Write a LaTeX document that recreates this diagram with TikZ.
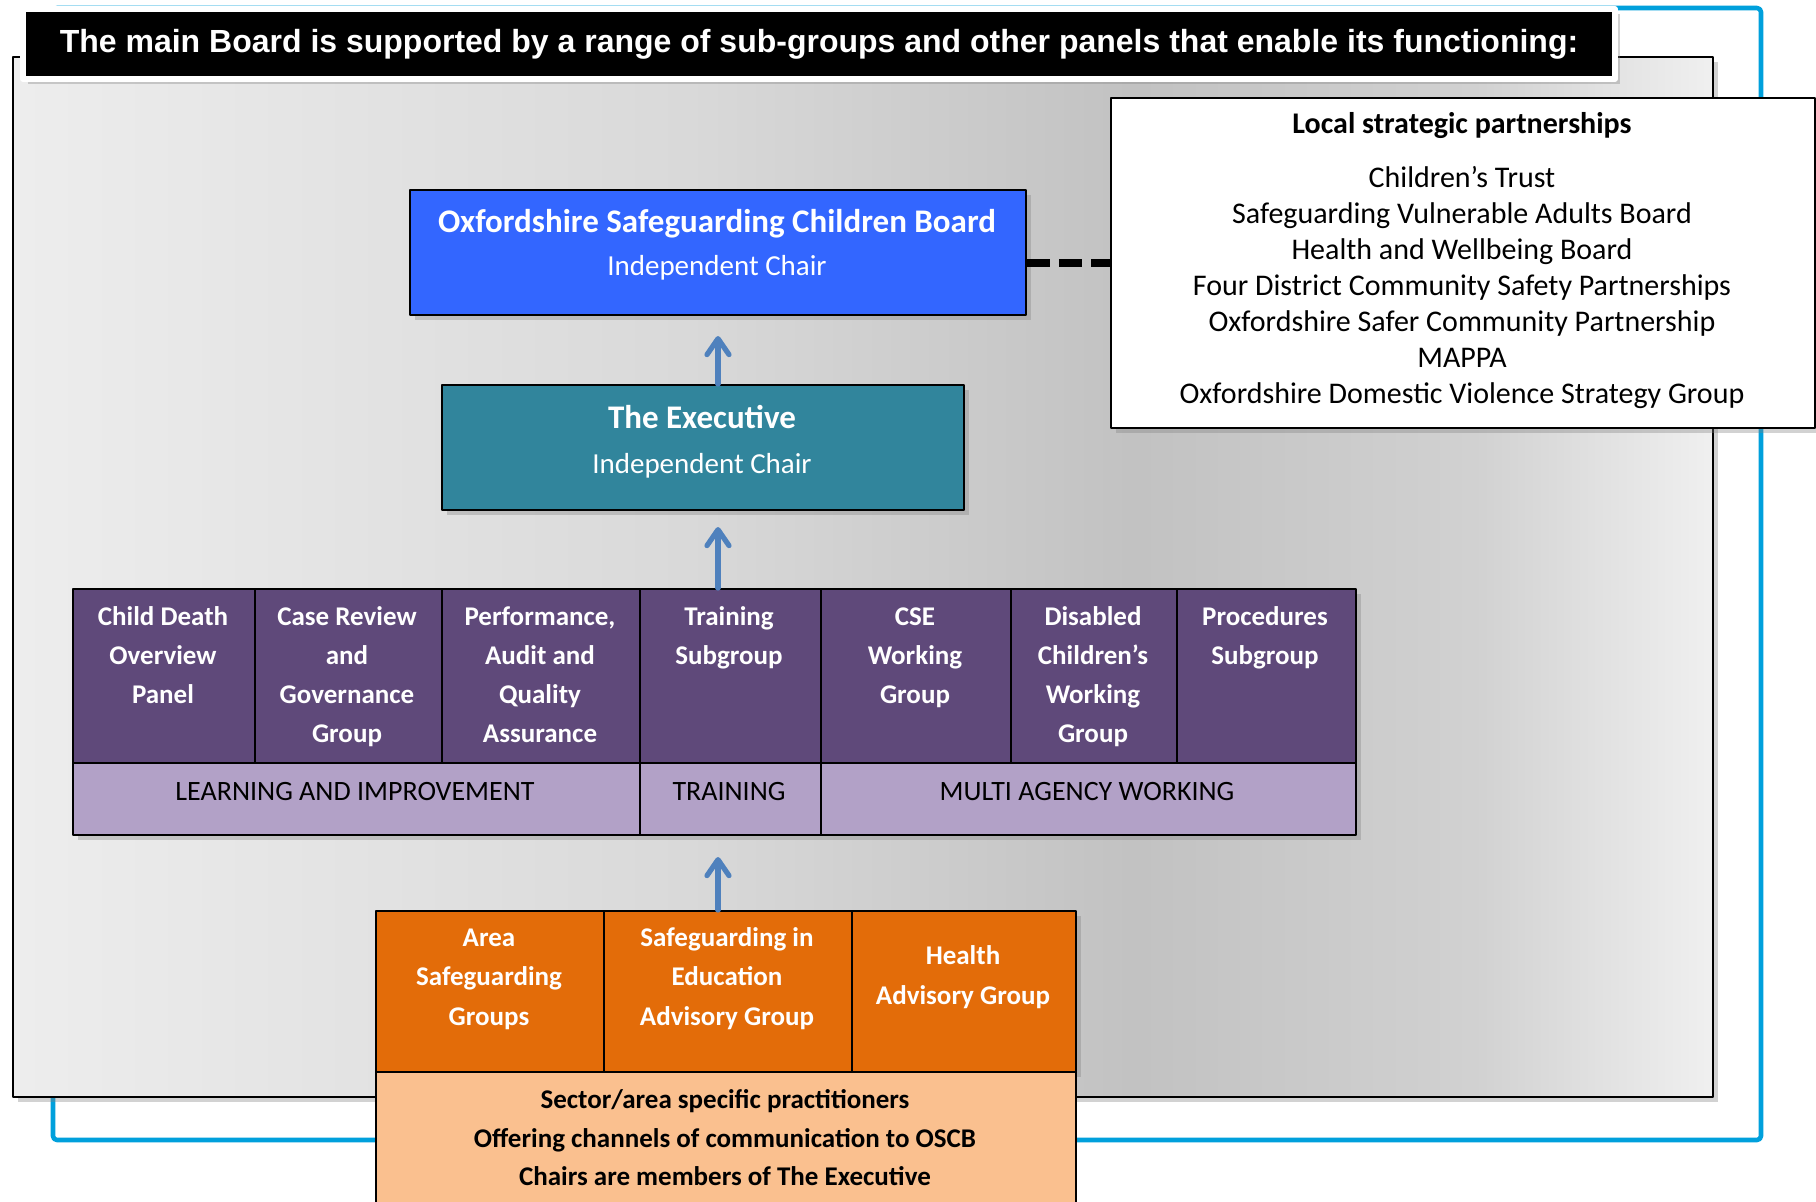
\documentclass[tikz,border=0pt]{standalone}
\usepackage{fontspec}
\setmainfont{Carlito}
\newfontfamily\headfont{Liberation Sans}
\usetikzlibrary{arrows.meta,shadows}

\definecolor{frameblue}{RGB}{0,160,220}
\definecolor{boardblue}{RGB}{51,102,255}
\definecolor{execteal}{RGB}{49,133,156}
\definecolor{subpurple}{RGB}{95,73,122}
\definecolor{themepurple}{RGB}{178,161,199}
\definecolor{grouporange}{RGB}{227,108,9}
\definecolor{noteorange}{RGB}{250,192,143}
\definecolor{linkblue}{RGB}{79,129,189}

\pgfdeclarehorizontalshading{panelshade}{100bp}{color(0bp)=(black!7); color(25bp)=(black!7); color(45bp)=(black!15); color(58bp)=(black!24); color(68bp)=(black!18); color(75bp)=(black!6); color(100bp)=(black!6)}

\tikzset{
  box/.style={draw=black,line width=1pt,inner sep=0pt,anchor=north west},
  shadowed/.style={drop shadow={shadow xshift=2.5pt,shadow yshift=-2.5pt,opacity=0.35}},
  subcell/.style={box,shadowed,fill=subpurple,minimum height=87pt},
  themecell/.style={box,shadowed,fill=themepurple,minimum height=36pt},
  groupcell/.style={box,shadowed,fill=grouporange,minimum height=80.5pt},
  headtext/.style={text=white,font=\bfseries\fontsize{16.5}{20}\selectfont,anchor=base,inner sep=0pt},
  chairtext/.style={text=white,font=\fontsize{14.5}{18}\selectfont,anchor=base,inner sep=0pt},
  celltext/.style={text=white,font=\bfseries\fontsize{13.5}{19.5}\selectfont,align=flush center,anchor=base,inner sep=0pt},
  themetext/.style={font=\fontsize{14}{17}\selectfont,anchor=base,inner sep=0pt},
  upline/.style={draw=linkblue,line width=2.6pt,-{Straight Barb[length=8pt,width=11pt,round]}}
}

\begin{document}
\begin{tikzpicture}[line cap=round,line join=round,x=0.5pt,y=-0.5pt]
		\useasboundingbox (0,0) rectangle (1816,1201);
		\fill[white] (0,0) rectangle (1816,1201);
		% outer frame and background panel
		\draw[frameblue,line width=2.3pt,rounded corners=2pt] (53,8) rectangle (1761,1140);
		\draw[shadowed,shade,shading=panelshade,line width=1pt] (13,57) rectangle (1713,1097);
		% heading
		\node[fill=black,draw=white,line width=3pt,shadowed,minimum width=796pt,minimum height=34.75pt,inner sep=0pt,
			text=white,font=\headfont\bfseries\fontsize{16}{19}\selectfont] (title) at (819,44)
			{The main Board is supported by a range of sub-groups and other panels that enable its functioning:};
		% local partnerships
		\node[box,shadowed,fill=white,minimum width=352pt,minimum height=165pt] (lsp) at (1110,97) {};
		\node[font=\bfseries\fontsize{15}{18}\selectfont,anchor=base,inner sep=0pt] (lsptitle) at (1462,133) {Local strategic partnerships};
		\node[font=\fontsize{15}{18}\selectfont,align=flush center,text width=345pt,anchor=base,inner sep=0pt] (lsplist) at (1462,187)
			{Children’s Trust\\Safeguarding Vulnerable Adults Board\\Health and Wellbeing Board\\Four District Community Safety Partnerships\\Oxfordshire Safer Community Partnership\\MAPPA\\Oxfordshire Domestic Violence Strategy Group};
		% board and executive
		\node[box,shadowed,fill=boardblue,minimum width=308pt,minimum height=62.5pt] (board) at (409,189) {};
		\node[headtext] (boardname) at (717,232) {Oxfordshire Safeguarding Children Board};
		\node[chairtext] (boardchair) at (717,275) {Independent Chair};
		\node[box,shadowed,fill=execteal,minimum width=261pt,minimum height=62.5pt] (exec) at (441,384) {};
		\node[headtext] (execname) at (702,428) {The Executive};
		\node[chairtext] (execchair) at (702,473) {Independent Chair};
		% subgroups
		\node[subcell,minimum width=91pt] (cdop) at (72,588) {};
		\node[subcell,minimum width=93.5pt] (crg) at (254,588) {};
		\node[subcell,minimum width=99pt] (paqa) at (441,588) {};
		\node[subcell,minimum width=90.5pt] (train) at (639,588) {};
		\node[subcell,minimum width=95pt] (cse) at (820,588) {};
		\node[subcell,minimum width=83pt] (dcwg) at (1010,588) {};
		\node[subcell,minimum width=89.5pt] (proc) at (1176,588) {};
		\node[celltext,text width=85pt] at (163,625) {Child Death\\Overview\\Panel};
		\node[celltext,text width=88pt] at (347,625) {Case Review\\and\\Governance\\Group};
		\node[celltext,text width=93pt] at (540,625) {Performance,\\Audit and\\Quality\\Assurance};
		\node[celltext,text width=85pt] at (729,625) {Training\\Subgroup};
		\node[celltext,text width=89pt] at (915,625) {CSE\\Working\\Group};
		\node[celltext,text width=78pt] at (1093,625) {Disabled\\Children’s\\Working\\Group};
		\node[celltext,text width=84pt] at (1265,625) {Procedures\\Subgroup};
		\node[themecell,minimum width=283.5pt] (learn) at (72,762) {};
		\node[themecell,minimum width=90.5pt] (trainrow) at (639,762) {};
		\node[themecell,minimum width=267.5pt] (multi) at (820,762) {};
		\node[themetext] at (355,800) {LEARNING AND IMPROVEMENT};
		\node[themetext] at (729,800) {TRAINING};
		\node[themetext] at (1087,800) {MULTI AGENCY WORKING};
		% advisory groups
		\node[groupcell,minimum width=114pt] (asg) at (375,910) {};
		\node[groupcell,minimum width=124pt] (sieag) at (603,910) {};
		\node[groupcell,minimum width=112pt] (hag) at (851,910) {};
		\node[box,fill=noteorange,minimum width=350pt,minimum height=67pt] (note) at (375,1071) {};
		\node[celltext,text width=108pt,font=\bfseries\fontsize{13.5}{19.75}\selectfont] at (489,946) {Area\\Safeguarding\\Groups};
		\node[celltext,text width=118pt,font=\bfseries\fontsize{13.5}{19.75}\selectfont] at (727,946) {Safeguarding in\\Education\\Advisory Group};
		\node[celltext,text width=106pt,font=\bfseries\fontsize{13.5}{19.75}\selectfont] at (963,964.5) {Health\\Advisory Group};
		\node[celltext,text=black,text width=340pt,font=\bfseries\fontsize{13.5}{19.25}\selectfont] at (725,1108.5)
			{Sector/area specific practitioners\\Offering channels of communication to OSCB\\Chairs are members of The Executive};
		% links
		\draw[upline,shorten >=10pt] (board.south |- exec.north) -- (board.south);
		\draw[upline,shorten >=8pt] (board.south |- train.north) -- (board.south |- exec.south);
		\draw[upline,shorten >=10.5pt] (board.south |- asg.north) -- (board.south |- learn.south);
		\draw[line width=4pt,line cap=butt,dash pattern=on 11.5pt off 4.5pt] (board.east |- lsp.west) -- (lsp.west);
		\end{tikzpicture}
\end{document}
